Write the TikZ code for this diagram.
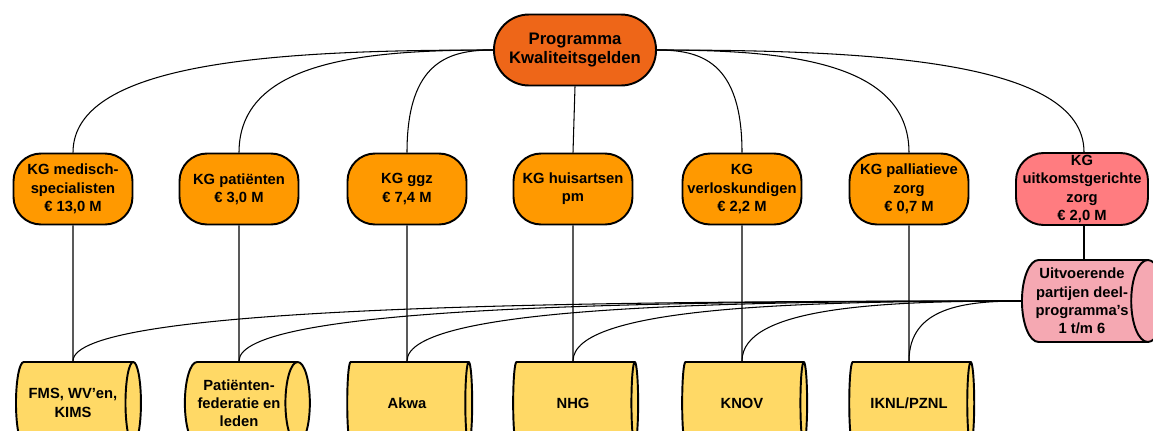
\documentclass[tikz,border=0pt]{standalone}
\usepackage{fontspec}
\setmainfont{Liberation Sans}
\usepackage{tikz}
\usetikzlibrary{positioning,calc}
\usetikzlibrary{shapes.geometric}
\definecolor{progoranje}{RGB}{238,102,24}
\definecolor{kgoranje}{RGB}{255,153,0}
\definecolor{kgrood}{RGB}{255,124,128}
\definecolor{uitvroze}{RGB}{245,168,178}
\definecolor{partijgeel}{RGB}{255,217,102}
\tikzset{
 kgbox/.style={draw,line width=1.1pt,fill=kgoranje,rounded corners=0.55cm,
   minimum width=2.38cm,minimum height=1.42cm,inner sep=1pt,align=center,
   font=\fontsize{8.4}{10.4}\selectfont\bfseries},
 vat/.style={cylinder,shape aspect=0.48,draw,line width=1.1pt,fill=partijgeel,
   minimum width=1.64cm,minimum height=2.5cm,inner sep=1pt,align=center,
   font=\fontsize{8.4}{10.4}\selectfont\bfseries},
 curvy/.style={to path={.. controls ($(\tikztostart)!#1!(\tikztostart -| \tikztotarget)$)
   and ($(\tikztotarget)!0.9!(\tikztostart -| \tikztotarget)$) .. (\tikztotarget)}},
 curvy/.default=0.5,
 lijn/.style={line width=0.6pt}
}
\begin{document}
\begin{tikzpicture}[x=0.02cm,y=-0.02cm]
\useasboundingbox (0,0) rectangle (1153,430);
\clip (0,0) rectangle (1153,430);

\path (575,50) node[name=top,kgbox,fill=progoranje,minimum width=3.24cm,rounded corners=0.7cm,
  font=\fontsize{9.5}{11.3}\selectfont\bfseries] {Programma\\Kwaliteitsgelden};

% deelprogramma's
\path (73,189) node[name=m1,kgbox] {KG medisch-\\specialisten\\€ 13,0 M};
\path (239,189) node[name=m2,kgbox] {KG patiënten\\€ 3,0 M};
\path (407,189) node[name=m3,kgbox] {KG ggz\\€ 7,4 M};
\path (573,189) node[name=m4,kgbox] {KG huisartsen\\pm};
\path (742,189) node[name=m5,kgbox] {KG\\verloskundigen\\€ 2,2 M};
\path (909,189) node[name=m6,kgbox] {KG palliatieve\\zorg\\€ 0,7 M};
\path (1082,189) node[name=m7,kgbox,fill=kgrood,minimum width=2.64cm,minimum height=1.44cm] {KG\\uitkomstgerichte\\zorg\\€ 2,0 M};

\path (1082,301) node[name=u,vat,fill=uitvroze] {Uitvoerende\\partijen deel-\\programma’s\\1 t/m 6};

% partijen
\path (73,403) node[name=b1,vat] {FMS, WV’en,\\KIMS};
\path (239,403) node[name=b2,vat] {Patiënten-\\federatie en\\leden};
\path (407,403) node[name=b3,vat] {Akwa};
\path (573,403) node[name=b4,vat] {NHG};
\path (742,403) node[name=b5,vat] {KNOV};
\path (909,403) node[name=b6,vat] {IKNL/PZNL};

\path[lijn] (top.west) edge[curvy=0.5] (m1.north);
\path[lijn] (top.west) edge[curvy=0.5] (m2.north);
\path[lijn] (top.west) edge[curvy=0.5] (m3.north);
\path[lijn] (top.south) edge (m4.north);
\path[lijn] (top.east) edge[curvy=0.5] (m5.north);
\path[lijn] (top.east) edge[curvy=0.5] (m6.north);
\path[lijn] (top.east) edge[curvy=0.5] (m7.north -| 1084,0);

\path[lijn] (m1) edge (b1);
\path[lijn] (m2) edge (b2);
\path[lijn] (m3) edge (b3);
\path[lijn] (m4) edge (b4);
\path[lijn] (m5) edge (b5);
\path[lijn] (m6) edge (b6);
\path[lijn] (m7.south -| 1084,0) edge (u.north -| 1084,0);

\path[lijn] (u.west) edge[curvy=0.5] (b1.north);
\path[lijn] (u.west) edge[curvy=0.5] (b2.north);
\path[lijn] (u.west) edge[curvy=0.5] (b3.north);
\path[lijn] (u.west) edge[curvy=0.5] (b4.north);
\path[lijn] (u.west) edge[curvy=0.5] (b5.north);
\path[lijn] (u.west) edge[curvy=0.5] (b6.north);
\end{tikzpicture}
\end{document}
